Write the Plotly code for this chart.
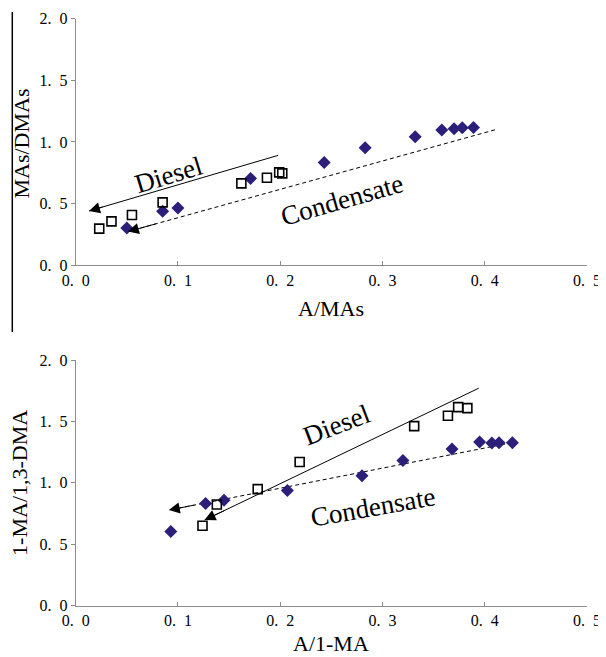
import plotly.graph_objects as go

# ---------------- data ----------------
# Top panel: A/MAs vs MAs/DMAs
top_diesel_x = [0.023, 0.035, 0.055, 0.085, 0.162, 0.187, 0.199, 0.202]
top_diesel_y = [0.297, 0.356, 0.408, 0.510, 0.664, 0.710, 0.753, 0.745]
top_cond_x = [0.050, 0.085, 0.100, 0.171, 0.243, 0.283, 0.332, 0.358, 0.370, 0.378, 0.389]
top_cond_y = [0.302, 0.437, 0.464, 0.704, 0.834, 0.953, 1.042, 1.096, 1.107, 1.115, 1.117]
top_diesel_arrow_x = [0.198, 0.013]
top_diesel_arrow_y = [0.891, 0.440]
top_cond_arrow_x = [0.410, 0.051]
top_cond_arrow_y = [1.098, 0.273]

# Bottom panel: A/1-MA vs 1-MA/1,3-DMA
bot_diesel_x = [0.124, 0.138, 0.178, 0.219, 0.331, 0.364, 0.374, 0.383]
bot_diesel_y = [0.651, 0.824, 0.949, 1.170, 1.462, 1.546, 1.616, 1.608]
bot_cond_x = [0.093, 0.127, 0.145, 0.207, 0.280, 0.320, 0.368, 0.395, 0.407, 0.414, 0.427]
bot_cond_y = [0.605, 0.832, 0.859, 0.938, 1.057, 1.181, 1.276, 1.332, 1.324, 1.327, 1.327]
bot_diesel_arrow_x = [0.394, 0.126]
bot_diesel_arrow_y = [1.770, 0.697]
bot_cond_arrow_x = [0.420, 0.091]
bot_cond_arrow_y = [1.316, 0.778]

x_tickvals = [0.0, 0.1, 0.2, 0.3, 0.4, 0.5]
x_ticktext = ["0.\u20020", "0.\u20021", "0.\u20022", "0.\u20023", "0.\u20024", "0.\u20025"]
y_tickvals = [0.0, 0.5, 1.0, 1.5, 2.0]
y_ticktext = ["0.\u20020", "0.\u20025", "1.\u20020", "1.\u20025", "2.\u20020"]

FONT = "Liberation Serif"
DIAMOND = "#2b1f7a"
AXIS = "#8c8c8c"

# page body has an 8px margin: work in page pixels and convert
OFF = 8
W, H = 606 - OFF, 657 - OFF


def px(p):
    return (p - OFF) / W


def py(p):
    return 1 - (p - OFF) / H


fig = go.Figure()


def add_panel(xa, ya, dx, dy, cx, cy, darr_x, darr_y, carr_x, carr_y):
    fig.add_trace(go.Scatter(x=darr_x, y=darr_y, mode="lines", xaxis=xa, yaxis=ya,
                             line=dict(color="black", width=1), showlegend=False, hoverinfo="skip"))
    fig.add_trace(go.Scatter(x=carr_x, y=carr_y, mode="lines", xaxis=xa, yaxis=ya,
                             line=dict(color="black", width=1, dash="4px,3px"), showlegend=False,
                             hoverinfo="skip"))
    fig.add_trace(go.Scatter(x=cx, y=cy, mode="markers", xaxis=xa, yaxis=ya,
                             marker=dict(symbol="diamond", size=10, color=DIAMOND), showlegend=False))
    fig.add_trace(go.Scatter(x=dx, y=dy, mode="markers", xaxis=xa, yaxis=ya,
                             marker=dict(symbol="square-open", size=9, color="black",
                                         line=dict(width=1.6, color="black")), showlegend=False))
    for lx, ly in ((darr_x, darr_y), (carr_x, carr_y)):
        tx = lx[1] + (lx[0] - lx[1]) * 0.08
        ty = ly[1] + (ly[0] - ly[1]) * 0.08
        fig.add_annotation(x=lx[1], y=ly[1], ax=tx, ay=ty, xref=xa, yref=ya,
                           axref=xa, ayref=ya, text="", showarrow=True,
                           arrowhead=2, arrowsize=2.2, arrowwidth=1, arrowcolor="black",
                           standoff=0, startstandoff=0)


add_panel("x", "y", top_diesel_x, top_diesel_y, top_cond_x, top_cond_y,
          top_diesel_arrow_x, top_diesel_arrow_y, top_cond_arrow_x, top_cond_arrow_y)
add_panel("x2", "y2", bot_diesel_x, bot_diesel_y, bot_cond_x, bot_cond_y,
          bot_diesel_arrow_x, bot_diesel_arrow_y, bot_cond_arrow_x, bot_cond_arrow_y)

labels = [
    ("x", "y", 0.0905, 0.732, "Diesel", -17),
    ("x", "y", 0.260, 0.529, "Condensate", -16),
    ("x2", "y2", 0.255, 1.471, "Diesel", -21),
    ("x2", "y2", 0.291, 0.805, "Condensate", -10),
]
for xa, ya, x, y, t, ang in labels:
    fig.add_annotation(x=x, y=y, xref=xa, yref=ya, text=t, showarrow=False, textangle=ang,
                       font=dict(family=FONT, size=27, color="black"))

titles = [
    (331, 308, "A/MAs", 0),
    (331, 643, "A/1-MA", 0),
    (21, 143.5, "MAs/DMAs", -90),
    (20, 482.9, "1-MA/1,3-DMA", -90),
]
for x, y, t, ang in titles:
    fig.add_annotation(x=px(x), y=py(y), xref="paper", yref="paper", text=t, showarrow=False,
                       textangle=ang, xanchor="center", yanchor="middle",
                       font=dict(family=FONT, size=22, color="black"))

xaxis_common = dict(range=[0, 0.5], tickvals=x_tickvals, ticktext=x_ticktext, ticks="inside",
                    ticklen=4, tickcolor=AXIS, showline=True, linecolor=AXIS, linewidth=1,
                    showgrid=False, zeroline=False, domain=[px(75.7), px(587)],
                    tickfont=dict(family=FONT, size=16, color="black"), fixedrange=True)
yaxis_common = dict(range=[0, 2], tickvals=y_tickvals, ticktext=y_ticktext, ticks="outside",
                    ticklen=4, tickcolor=AXIS, showline=True, linecolor=AXIS, linewidth=1,
                    showgrid=False, zeroline=False,
                    tickfont=dict(family=FONT, size=16, color="black"), fixedrange=True)

fig.update_layout(
    width=W, height=H,
    margin=dict(l=0, r=0, t=0, b=0, autoexpand=False),
    paper_bgcolor="white", plot_bgcolor="white",
    xaxis=dict(**xaxis_common, anchor="y"),
    yaxis=dict(**yaxis_common, anchor="x", domain=[py(265.3), py(18.5)]),
    xaxis2=dict(**xaxis_common, anchor="y2"),
    yaxis2=dict(**yaxis_common, anchor="x2", domain=[py(605.7), py(360)]),
    shapes=[dict(type="line", xref="paper", yref="paper", x0=px(12.3), x1=px(12.3),
                 y0=py(12), y1=py(332), line=dict(color="black", width=1.5))],
)

fig.write_html("out.html")
